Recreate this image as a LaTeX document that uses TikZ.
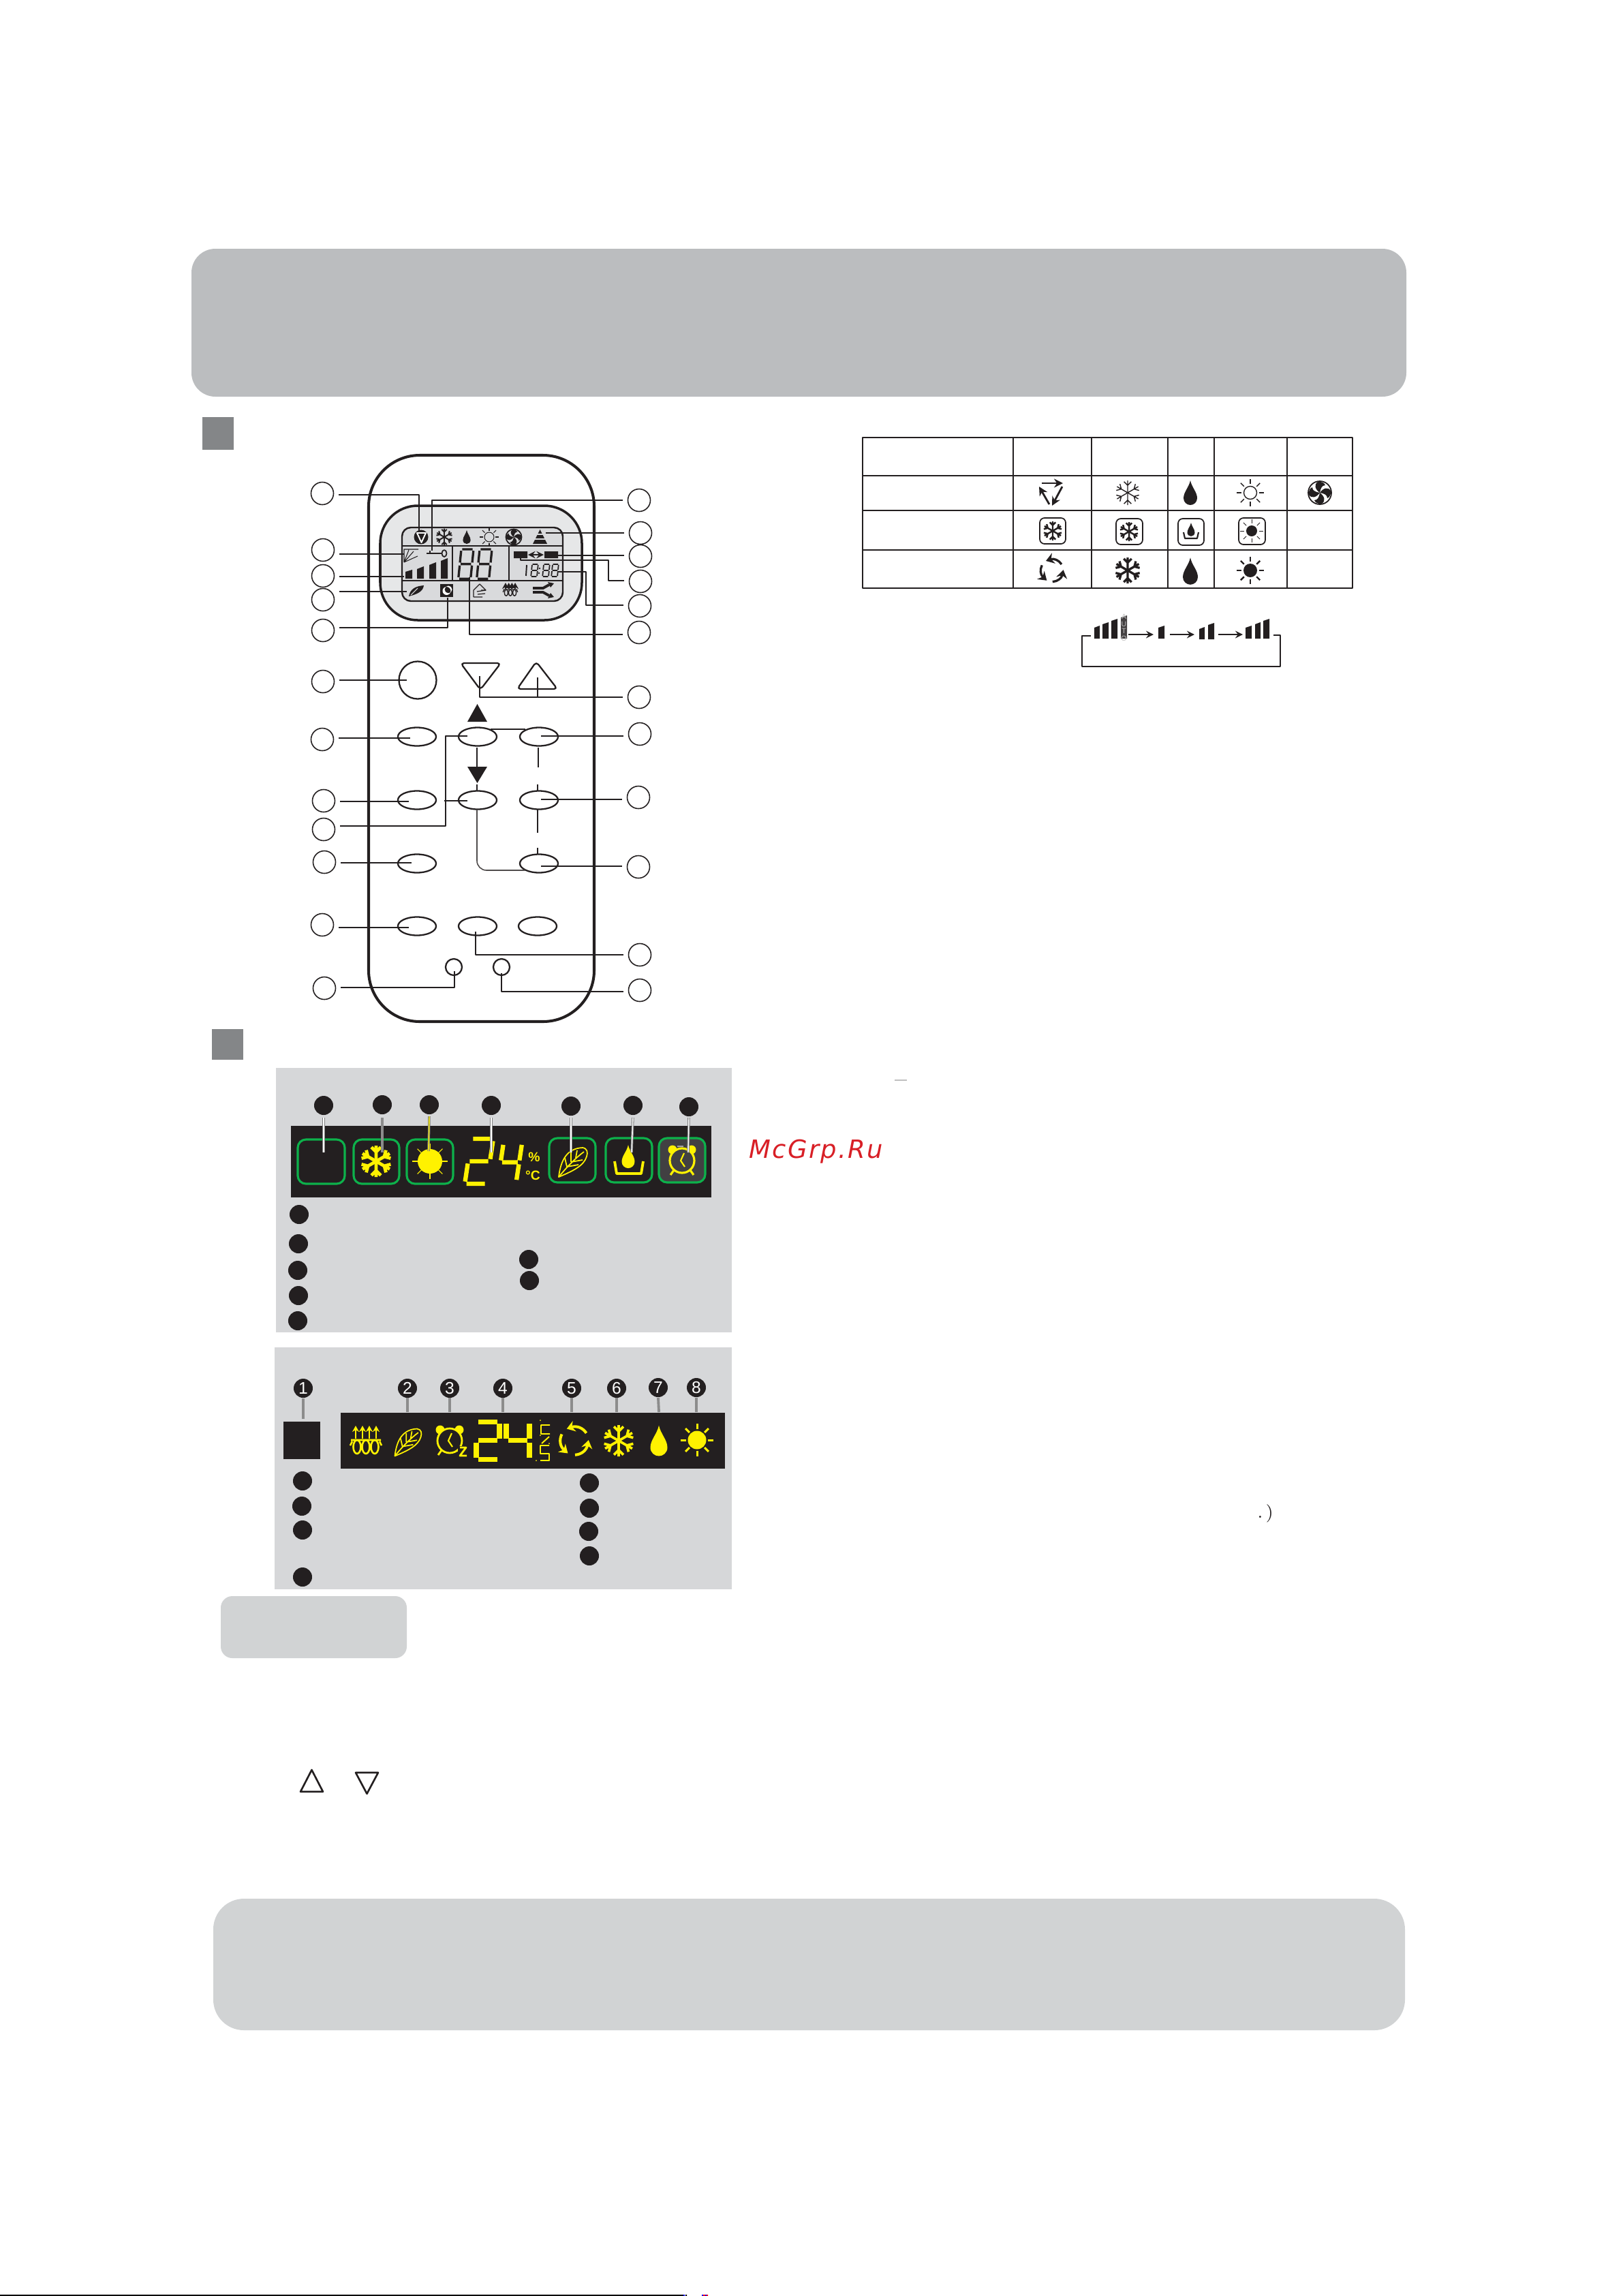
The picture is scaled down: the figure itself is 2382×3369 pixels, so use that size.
\documentclass[tikz,border=0pt]{standalone}
\usepackage{fontspec}
\setsansfont{Liberation Sans}
\newfontfamily\markfont[LetterSpace=6]{DejaVu Sans}
\usetikzlibrary{shapes.geometric,arrows.meta}
\definecolor{ink}{HTML}{231F20}
\definecolor{bandgray}{HTML}{BBBDBF}
\definecolor{softgray}{HTML}{D1D3D4}
\definecolor{panelgray}{HTML}{D6D7D9}
\definecolor{lcdgray}{HTML}{E6E7E8}
\definecolor{lcdinner}{HTML}{D9DADC}
\definecolor{squaregray}{HTML}{848688}
\definecolor{ledyellow}{HTML}{FFF200}
\definecolor{ledgreen}{HTML}{0DB14B}
\definecolor{clockgray}{HTML}{414042}
\definecolor{markred}{HTML}{D81F26}
\tikzset{
	callout/.style={circle,draw=ink,line width=.45pt,minimum size=.33cm,inner sep=0pt},
	keyoval/.style={ellipse,draw=ink,line width=.65pt,minimum width=.56cm,minimum height=.27cm,inner sep=0pt},
	keydot/.style={circle,draw=ink,line width=.65pt,minimum size=.24cm,inner sep=0pt},
	blackdot/.style={circle,fill=ink,minimum size=.28cm,inner sep=0pt},
	numdot/.style={blackdot,text=white,font=\sffamily\fontsize{7}{7}\selectfont},
	leadthick/.style={draw=ink,line width=.7pt,shorten <=.24cm},
	leadthin/.style={draw=ink,line width=.4pt,shorten <=.24cm},
	linkline/.style={draw=ink,line width=.6pt},
	greenbox/.style={draw=ledgreen,line width=.9pt,rounded corners=.12cm},
	iconbox/.style={draw=ink,line width=.5pt,rounded corners=.07cm},
	leadwhite/.style={draw=gray,line width=.3pt,double=white,double distance=.4pt},
	leadgray/.style={draw=gray!90,line width=1.1pt},
	snowicon/.pic={\foreach \a in {0,60,...,300} {\draw[rotate=\a] (0,0) -- (0,-20) (0,-12) -- (-6,-18) (0,-12) -- (6,-18);}},
	sunrays/.pic={\foreach \a in {0,45,...,315} {\draw[rotate=\a] (0,-13) -- (0,-20);}},
	dropicon/.pic={\fill (0,-18) .. controls (2,-8) and (10,-1) .. (10,8) .. controls (10,14) and (5,18) .. (0,18) .. controls (-5,18) and (-10,14) .. (-10,8) .. controls (-10,-1) and (-2,-8) .. (0,-18) -- cycle;},
	cycleicon/.pic={\foreach \a in {0,120,240} {\draw[rotate=\a,-{Stealth[length=.12cm,width=.16cm]}] (14,-9) .. controls (10,-15) and (3,-18) .. (-9,-14);}},
	arrowtri/.pic={\draw[-{Stealth[length=.13cm,width=.13cm]},line width=.8pt] (-15,-14) -- (16,-14);
		\draw[-{Stealth[length=.13cm,width=.13cm]},line width=.8pt] (15,-9) -- (0,19);
		\draw[-{Stealth[length=.13cm,width=.13cm]},line width=.8pt] (-4,17) -- (-19,-9);},
	fanicon/.pic={\draw[line width=.5pt] (0,0) circle (17);
		\foreach \a in {0,90,180,270} {\fill[rotate=\a] (0,0) .. controls (-7,-5) and (-9,-12) .. (-3,-16) .. controls (3,-17) and (7,-14) .. (8,-11) .. controls (3,-11) and (1,-6) .. (0,0) -- cycle;}},
	leaficon/.pic={\draw (-21,22) .. controls (-18,-4) and (-8,-20) .. (14,-21) .. controls (21,-20) and (22,-14) .. (20,-8) .. controls (16,6) and (-2,14) .. (-21,22) -- cycle;
		\draw (-21,22) .. controls (-8,6) and (4,-6) .. (16,-15) (-9,7) -- (-12,-6) (-3,0) -- (-3,-14) (4,-6) -- (6,-17) (-9,7) -- (8,4) (-3,0) -- (14,-3);},
	clockicon/.pic={\fill (-14,-16) circle (6.5) (14,-16) circle (6.5);
		\filldraw[fill=#1] (0,0) circle (18);
		\draw (-12,14) -- (-17,21) (12,14) -- (17,21);
		\draw[line width=.6pt] (3,-11) -- (-2,0) -- (4,9);},
	heaticon/.pic={\foreach \x in {-15,-5,5,15} {\draw[-{Stealth[length=.09cm,width=.1cm]},line width=.55pt] (\x,-2) -- (\x,-21);}
		\draw (-22,0) -- (22,0) (-23,8) -- (-20,2) (23,8) -- (20,2);
		\draw (-13,10) ellipse (5.5 and 10) (0,10) ellipse (5.5 and 10) (13,10) ellipse (5.5 and 10);},
	segtwo/.pic={\draw (3,0) -- (37,0) (40,3) -- (40,27) (37,30) -- (3,30) (0,33) -- (0,57) (3,60) -- (37,60);},
	segfour/.pic={\draw (0,3) -- (0,27) (3,30) -- (37,30) (40,3) -- (40,27) (40,33) -- (40,57);},
	segeight/.pic={\draw (3,0) -- (37,0) (40,3) -- (40,27) (37,30) -- (3,30) (0,33) -- (0,57) (3,60) -- (37,60) (0,3) -- (0,27) (40,33) -- (40,57);}
}
\begin{document}
\begin{tikzpicture}[
		x=.01cm,y=-.01cm,
		>=stealth,
		line cap=butt,
		line join=round
		]
		\useasboundingbox (0,0) rectangle (2382,3369);
		\fill[bandgray,rounded corners=.35cm] (281,365) rectangle (2064,582);
		\fill[squaregray] (297,612) rectangle (343,660);
		\fill[squaregray] (311,1510) rectangle (357,1555);
		\fill[softgray,rounded corners=.45cm] (313,2786) rectangle (2062,2979);
		\fill[softgray,rounded corners=.17cm] (324,2342) rectangle (597,2433);
		\draw[ink,line width=.75pt] (441,2629) -- (474,2629) -- (457.5,2597) -- cycle;
		\draw[ink,line width=.75pt] (522,2601) -- (555,2601) -- (538.5,2632) -- cycle;

		\draw[ink,line width=1.15pt,rounded corners=.75cm] (541,668) rectangle (872,1499);
		\filldraw[draw=ink,fill=lcdgray,line width=1pt,rounded corners=.55cm] (558,742) rectangle (854,910);
		\filldraw[draw=ink,fill=lcdinner,line width=.7pt,rounded corners=.13cm] (590,774) rectangle (826,882);
		\draw[ink,line width=.7pt] (590,801) -- (826,801) (590,852) -- (826,852) (664,801) -- (664,852) (747,801) -- (747,852);

		\begin{scope}[ink]
		\fill (618,788) circle (10.5);
		\draw[white,line width=.55pt] (612,782) -- (625,782) -- (618.5,796) -- cycle;
		\pic[line width=.55pt,scale=.62] at (652,788) {snowicon};
		\pic[scale=.56] at (685,788) {dropicon};
		\pic[line width=.3pt,scale=.7] at (718,788) {sunrays};
		\draw[line width=.3pt] (718,788) circle (7);
		\pic[scale=.68] at (754,788) {fanicon};
		\fill (792.5,777) -- (803,798) -- (782,798) -- cycle;
		\draw[lcdinner,line width=.5pt] (782,784) -- (803,784) (782,791) -- (803,791);
		\draw[line width=.3pt] (593,825) -- (593,806) -- (614,806) (593,825) -- (600,807) (593,825) -- (607,809) (593,825) -- (613,816);
		\draw[line width=.6pt] (626,812) -- (648,812) (631,808) -- (631,812);
		\draw[line width=.5pt] (652,812) ellipse (3.5 and 5);
		\fill (595,839) -- (605,836) -- (605,849) -- (595,849) -- cycle;
		\fill (612,835) -- (622,831) -- (622,849) -- (612,849) -- cycle;
		\fill (630,829) -- (640,825) -- (640,849) -- (630,849) -- cycle;
		\fill (647,823) -- (657,819) -- (657,849) -- (647,849) -- cycle;
		\pic[line width=.95pt,xslant=.1,xscale=.45,yscale=.72] at (677,806) {segeight};
		\pic[line width=.95pt,xslant=.1,xscale=.45,yscale=.72] at (704,806) {segeight};
		\fill (754,809) rectangle (774,819) (799,809) rectangle (819,819);
		\draw[<->,line width=.35pt] (775,814) -- (798,814);
		\draw[line width=.55pt] (773,829) -- (772,845);
		\pic[line width=.5pt,xslant=.1,xscale=.22,yscale=.3] at (781,828) {segeight};
		\fill (792,834) circle (1.3) (791,841) circle (1.3);
		\pic[line width=.5pt,xslant=.1,xscale=.22,yscale=.3] at (798,828) {segeight};
		\pic[line width=.5pt,xslant=.1,xscale=.22,yscale=.3] at (811,828) {segeight};
		\fill (600,875) .. controls (602,864) and (610,860) .. (622,859) .. controls (621,868) and (612,872) .. (600,875) -- cycle;
		\draw[lcdinner,line width=.3pt] (603,873) -- (613,863);
		\fill (646,857) rectangle (665,876);
		\fill[white,even odd rule] (655.5,867) circle (6) (658,865) circle (5.5);
		\draw[line width=.35pt] (695,876) -- (695,866) -- (704,857) -- (713,866) -- (706,866) (695,876) -- (708,876);
		\draw[line width=.35pt] (700,868) -- (713,866) (701,872) -- (712,871);
		\pic[line width=.4pt,scale=.47] at (749,865) {heaticon};
		\draw[line width=1.1pt] (782,863) -- (797,863) -- (806,858) (782,869) -- (797,869) -- (806,874);
		\fill (813,856) -- (804,854) -- (808,862) -- cycle (813,876) -- (804,878) -- (808,870) -- cycle;
		\end{scope}

		\node[callout] (lc1) at (473,724) {};
		\node[callout] (lc2) at (474,807) {};
		\node[callout] (lc3) at (474,845) {};
		\node[callout] (lc4) at (474,880) {};
		\node[callout] (lc5) at (474,925) {};
		\node[callout] (lc6) at (474,1000) {};
		\node[callout] (lc7) at (473,1085) {};
		\node[callout] (lc8) at (475,1175) {};
		\node[callout] (lc9) at (475,1217) {};
		\node[callout] (lc10) at (476,1265) {};
		\node[callout] (lc11) at (473,1357) {};
		\node[callout] (lc12) at (476,1450) {};
		\node[callout] (rc1) at (938,734) {};
		\node[callout] (rc2) at (940,782) {};
		\node[callout] (rc3) at (940,816) {};
		\node[callout] (rc4) at (940,853) {};
		\node[callout] (rc5) at (939,889) {};
		\node[callout] (rc6) at (938,928) {};
		\node[callout] (rc7) at (938,1023) {};
		\node[callout] (rc8) at (939,1077) {};
		\node[callout] (rc9) at (937,1170) {};
		\node[callout] (rc10) at (937,1272) {};
		\node[callout] (rc11) at (939,1401) {};
		\node[callout] (rc12) at (939,1453) {};

		\node[ellipse,draw=ink,line width=.65pt,minimum width=.55cm,minimum height=.55cm,inner sep=0pt] (power) at (613,998) {};
		\node[keyoval] (keya) at (612,1081) {};
		\node[keyoval] (keyb) at (701,1081) {};
		\node[keyoval] (keyc) at (791,1081) {};
		\node[keyoval] (keyd) at (612,1174) {};
		\node[keyoval] (keye) at (701,1174) {};
		\node[keyoval] (keyf) at (791,1174) {};
		\node[keyoval] (keyg) at (612,1267) {};
		\node[keyoval] (keyh) at (791,1267) {};
		\node[keyoval] (keyi) at (612,1359) {};
		\node[keyoval] (keyj) at (701,1359) {};
		\node[keyoval] (keyk) at (789,1359) {};
		\node[keydot] (dota) at (666,1419) {};
		\node[keydot] (dotb) at (736,1419) {};
		\draw[ink,line width=.65pt,rounded corners=.05cm] (676,973) -- (735,973) -- (705,1012) -- cycle;
		\draw[ink,line width=.65pt,rounded corners=.05cm] (759,1011) -- (818,1011) -- (787,971) -- cycle;
		\fill[ink] (686,1059) -- (715,1059) -- (700.5,1033) -- cycle;
		\fill[ink] (686,1125) -- (715,1125) -- (700.5,1149) -- cycle;

		\draw[leadthick] (lc1 |- 0,726) -- (615,726) -- (615,780);
		\draw[leadthick] (lc2 |- 0,813) -- (593,813);
		\draw[leadthick] (lc3 |- 0,846) -- (593,846);
		\draw[leadthick] (lc4 |- 0,868) -- (597,868);
		\draw[leadthick] (lc5 |- 0,921) -- (657,921) -- (657,877);
		\draw[leadthick] (lc6 |- 0,998) -- (597,998);
		\draw[leadthin] (lc7 |- 0,1083) -- (602,1083);
		\draw[leadthick] (lc8 |- 0,1176) -- (600,1176);
		\draw[leadthin] (lc9 |- 0,1212) -- (654,1212) -- (654,1080) -- (686,1080);
		\draw[linkline] (652,1175) -- (686,1175);
		\draw[leadthick] (lc10 |- 0,1266) -- (604,1266);
		\draw[leadthick] (lc11 |- 0,1361) -- (600,1361);
		\draw[leadthin] (lc12 |- 0,1449) -- (667,1449) -- (667,1425);
		\draw[leadthin] (rc1 |- 0,734) -- (634,734) -- (634,808);
		\draw[leadthick] (rc2 |- 0,782) -- (801,782);
		\draw[leadthick] (rc3 |- 0,815) -- (819,815);
		\draw[leadthin] (rc4 |- 0,852) -- (893,852) -- (893,822) -- (764,822) -- (764,819);
		\draw[leadthin] (rc5 |- 0,888) -- (860,888) -- (860,839) -- (818,839);
		\draw[leadthin] (rc6 |- 0,931) -- (689,931) -- (689,847);
		\draw[leadthick] (rc7 |- 0,1023) -- (704,1023) -- (704,992);
		\draw[linkline] (789,1023) -- (789,994);
		\draw[leadthin] (rc8 |- 0,1080) -- (794,1080);
		\draw[leadthick] (rc9 |- 0,1173) -- (794,1173);
		\draw[leadthick] (rc10 |- 0,1271) -- (794,1271);
		\draw[leadthick] (rc11 |- 0,1401) -- (698,1401) -- (698,1367);
		\draw[leadthick] (rc12 |- 0,1455) -- (736,1455) -- (736,1428);
		\draw[linkline] (720,1070) -- (771,1070);
		\draw[linkline] (700,1097) -- (700,1125) (700,1151) -- (700,1160);
		\draw[linkline] (790,1097) -- (790,1126) (789,1151) -- (789,1160);
		\draw[linkline] (789,1188) -- (789,1222) (789,1244) -- (789,1253);
		\draw[ink!80,line width=.45pt,rounded corners=.14cm] (700,1188) -- (700,1277) -- (771,1277);

		\draw[ink,line width=.7pt] (1266,642) rectangle (1985,863);
		\draw[ink,line width=.7pt] (1266,698) -- (1985,698) (1266,749) -- (1985,749) (1266,807) -- (1985,807);
		\draw[ink,line width=.7pt] (1487,642) -- (1487,863) (1714,642) -- (1714,863) (1782,642) -- (1782,863) (1889,642) -- (1889,863);
		\draw[ink,line width=.35pt] (1602,642) -- (1602,863);

		\begin{scope}[ink]
		\pic at (1544,723) {arrowtri};
		\pic[line width=.4pt,scale=.9] at (1655,723) {snowicon};
		\pic at (1747,723) {dropicon};
		\pic[line width=.4pt] at (1835,723) {sunrays};
		\draw[line width=.4pt] (1835,723) circle (9.5);
		\pic at (1937,723) {fanicon};
		\draw[iconbox] (1526,760) rectangle (1564,798);
		\pic[line width=.7pt,scale=.7] at (1545,779) {snowicon};
		\draw[iconbox] (1638,761) rectangle (1677,799);
		\pic[line width=.7pt,scale=.7] at (1657,780) {snowicon};
		\draw[iconbox] (1729,761) rectangle (1767,800);
		\pic[scale=.55] at (1748,777) {dropicon};
		\draw[line width=.6pt] (1737,781) -- (1739,790) -- (1757,790) -- (1759,781);
		\draw[iconbox] (1818,760) rectangle (1857,799);
		\pic[line width=.25pt,scale=.85] at (1837,779) {sunrays};
		\fill (1837,779) circle (8);
		\pic[line width=.95pt] at (1544,837) {cycleicon};
		\pic[line width=.95pt,scale=.95] at (1655,837) {snowicon};
		\pic[scale=1.1] at (1747,838) {dropicon};
		\pic[line width=.7pt] at (1835,837) {sunrays};
		\fill (1835,837) circle (10);

		\fill (1606,921) -- (1614,918) -- (1614,937) -- (1606,937) -- cycle;
		\fill (1618,916) -- (1627,913) -- (1627,937) -- (1618,937) -- cycle;
		\fill (1631,911) -- (1640,908) -- (1640,937) -- (1631,937) -- cycle;
		\fill[ink!85] (1645,906) -- (1654,903) -- (1654,937) -- (1645,937) -- cycle;
		\node[text=lightgray,font=\sffamily\fontsize{3}{3}\selectfont,align=center,inner sep=0pt] (auto) at (1649.5,921) {A\\U\\T\\O};
		\fill (1700,921) -- (1709,918) -- (1709,937) -- (1700,937) -- cycle;
		\fill (1760,923) -- (1768,920) -- (1768,938) -- (1760,938) -- cycle;
		\fill (1773,917) -- (1782,914) -- (1782,938) -- (1773,938) -- cycle;
		\fill (1828,921) -- (1837,918) -- (1837,937) -- (1828,937) -- cycle;
		\fill (1842,916) -- (1850,913) -- (1850,937) -- (1842,937) -- cycle;
		\fill (1854,911) -- (1863,908) -- (1863,937) -- (1854,937) -- cycle;
		\draw[->,line width=.4pt] (1656,931) -- (1693,931);
		\draw[->,line width=.4pt] (1717,931) -- (1753,931);
		\draw[->,line width=.4pt] (1788,931) -- (1824,931);
		\draw[line width=.4pt] (1869,932) -- (1879,932) -- (1879,978) -- (1588,978) -- (1588,933) -- (1601,933);
		\end{scope}

		\fill[panelgray] (405,1567) rectangle (1074,1955);
		\fill[ink] (427,1652) rectangle (1044,1757);
		\draw[greenbox] (437,1672) rectangle (506,1737);
		\draw[greenbox] (519,1672) rectangle (586,1737);
		\draw[greenbox] (597,1672) rectangle (665,1737);
		\draw[greenbox] (806,1670) rectangle (874,1735);
		\draw[greenbox] (889,1670) rectangle (957,1735);
		\filldraw[greenbox,fill=clockgray] (967,1670) rectangle (1035,1735);
		\begin{scope}[ledyellow,fill=ledyellow]
		\pic[line width=1.35pt,scale=1.15] at (552,1704) {snowicon};
		\pic[line width=.3pt,scale=1.3] at (631,1704) {sunrays};
		\fill (631,1704) circle (18);
		\pic[line width=1.8pt,xslant=.15,xscale=.8,yscale=1.1] at (692,1671) {segtwo};
		\pic[line width=1.8pt,xslant=.15,xscale=.68,yscale=.95] at (739,1677) {segfour};
		\node[text=ledyellow,font=\sffamily\bfseries\fontsize{5.5}{5.5}\selectfont,inner sep=0pt] (pct) at (784,1698) {\%};
		\node[text=ledyellow,font=\sffamily\bfseries\fontsize{5.5}{5.5}\selectfont,inner sep=0pt] (deg) at (782,1725) {°C};
		\pic[line width=.5pt] at (841,1705) {leaficon};
		\pic[scale=.95] at (922,1697) {dropicon};
		\draw[line width=1.1pt] (902,1704) -- (905,1722) -- (941,1722) -- (944,1704);
		\pic[line width=.9pt] at (1001,1703) {clockicon=clockgray};
		\end{scope}
		\fill[gray!70] (994,1681) rectangle (1003,1683);

		\node[blackdot] (pa1) at (475,1622) {};
		\node[blackdot] (pa2) at (561,1621) {};
		\node[blackdot] (pa3) at (630,1621) {};
		\node[blackdot] (pa4) at (721,1622) {};
		\node[blackdot] (pa5) at (838,1623) {};
		\node[blackdot] (pa6) at (929,1622) {};
		\node[blackdot] (pa7) at (1011,1624) {};
		\coordinate (pe1) at (475,1691);
		\coordinate (pe2) at (561,1691);
		\coordinate (pe3) at (629,1689);
		\coordinate (pe4) at (721,1691);
		\coordinate (pe5) at (838,1691);
		\coordinate (pe6) at (927,1691);
		\coordinate (pe7) at (1010,1691);
		\draw[leadwhite] (pa1.south |- 0,1640) -- (pe1);
		\draw[leadgray] (pa2.south |- 0,1640) -- (pe2);
		\draw[leadwhite,double=ledyellow] (pa3.south |- 0,1638) -- (pe3);
		\draw[leadwhite] (pa4.south |- 0,1640) -- (pe4);
		\draw[leadwhite] (pa5.south |- 0,1640) -- (pe5);
		\draw[leadwhite] (pa6.south |- 0,1640) -- (pe6);
		\draw[leadwhite] (pa7.south |- 0,1640) -- (pe7);
		\node[blackdot] (pb1) at (439,1782) {};
		\node[blackdot] (pb2) at (438,1825) {};
		\node[blackdot] (pb3) at (437,1864) {};
		\node[blackdot] (pb4) at (438,1901) {};
		\node[blackdot] (pb5) at (437,1938) {};
		\node[blackdot] (pb6) at (776,1848) {};
		\node[blackdot] (pb7) at (777,1879) {};

		\fill[panelgray] (403,1977) rectangle (1074,2332);
		\fill[ink] (416,2086) rectangle (470,2141);
		\fill[ink] (500,2073) rectangle (1064,2155);
		\begin{scope}[ledyellow,fill=ledyellow]
		\pic[line width=.75pt] at (537,2113) {heaticon};
		\pic[line width=.5pt,scale=.93] at (599,2116) {leaficon};
		\pic[line width=.8pt] at (660,2114) {clockicon=ink};
		\fill[ink] (672,2122) rectangle (686,2138);
		\draw[line width=.8pt] (675,2124) -- (684,2124) -- (675,2136) -- (685,2136);
		\pic[line width=2pt,xscale=.85,yscale=.93] at (699,2086) {segtwo};
		\pic[line width=2pt,xscale=.85,yscale=.93] at (743,2086) {segfour};
		\draw[line width=.55pt] (807,2091) -- (794,2091) -- (794,2104) -- (807,2104) (806,2108) -- (795,2118) (806,2121) -- (793,2121) -- (793,2133) -- (806,2133) -- (806,2143) -- (793,2143);
		\fill (793,2084) circle (1) (793,2106) circle (1) (806,2118) circle (1) (787,2143) circle (1);
		\pic[line width=1.15pt,scale=1.25] at (843,2114) {cycleicon};
		\pic[line width=1.05pt,scale=1.15] at (908,2114) {snowicon};
		\pic[scale=1.25] at (967,2114) {dropicon};
		\pic[line width=.85pt,scale=1.2] at (1023,2113) {sunrays};
		\fill (1023,2113) circle (13.5);
		\end{scope}
		\node[numdot] (pc1) at (445,2037) {1};
		\node[numdot] (pc2) at (598,2037) {2};
		\node[numdot] (pc3) at (660,2037) {3};
		\node[numdot] (pc4) at (738,2037) {4};
		\node[numdot] (pc5) at (839,2037) {5};
		\node[numdot] (pc6) at (905,2037) {6};
		\node[numdot] (pc7) at (966,2036) {7};
		\node[numdot] (pc8) at (1022,2036) {8};
		\coordinate (pf1) at (445,2082);
		\coordinate (pf2) at (598,2072);
		\coordinate (pf3) at (660,2072);
		\coordinate (pf4) at (738,2072);
		\coordinate (pf5) at (839,2072);
		\coordinate (pf6) at (905,2072);
		\coordinate (pf7) at (967,2072);
		\coordinate (pf8) at (1022,2072);
		\draw[leadgray] (pc1.south |- 0,2052) -- (pf1);
		\draw[leadgray] (pc2.south |- 0,2051) -- (pf2);
		\draw[leadgray] (pc3.south |- 0,2051) -- (pf3);
		\draw[leadgray] (pc4.south |- 0,2051) -- (pf4);
		\draw[leadgray] (pc5.south |- 0,2051) -- (pf5);
		\draw[leadgray] (pc6.south |- 0,2051) -- (pf6);
		\draw[leadgray] (pc7.south |- 0,2051) -- (pf7);
		\draw[leadgray] (pc8.south |- 0,2051) -- (pf8);
		\node[blackdot] (pd1) at (444,2173) {};
		\node[blackdot] (pd2) at (443,2210) {};
		\node[blackdot] (pd3) at (444,2245) {};
		\node[blackdot] (pd4) at (444,2314) {};
		\node[blackdot] (pd5) at (865,2176) {};
		\node[blackdot] (pd6) at (865,2213) {};
		\node[blackdot] (pd7) at (864,2247) {};
		\node[blackdot] (pd8) at (865,2283) {};

		\node[anchor=base west,inner sep=0pt,text=markred,font=\markfont\itshape\fontsize{10.5}{10.5}\selectfont] (mark) at (1099,1699) {McGrp.Ru};
		\draw[lightgray,line width=.3pt] (1313,1585) -- (1331,1585);
		\node[anchor=base west,inner sep=0pt,text=ink,font=\fontsize{7.5}{7.5}\selectfont] (tail) at (1845,2227) {.\,)};
		\fill[black] (0,3367) rectangle (1003,3369) (1006,3367) rectangle (1008,3369);
		\fill[blue] (1003,3367) rectangle (1005,3369) (1030,3367) rectangle (1032,3369) (1035,3367) rectangle (1037,3369);
		\fill[red] (1032,3367) rectangle (1035,3369) (1037,3367) rectangle (1039,3369);
		\end{tikzpicture}
\end{document}
